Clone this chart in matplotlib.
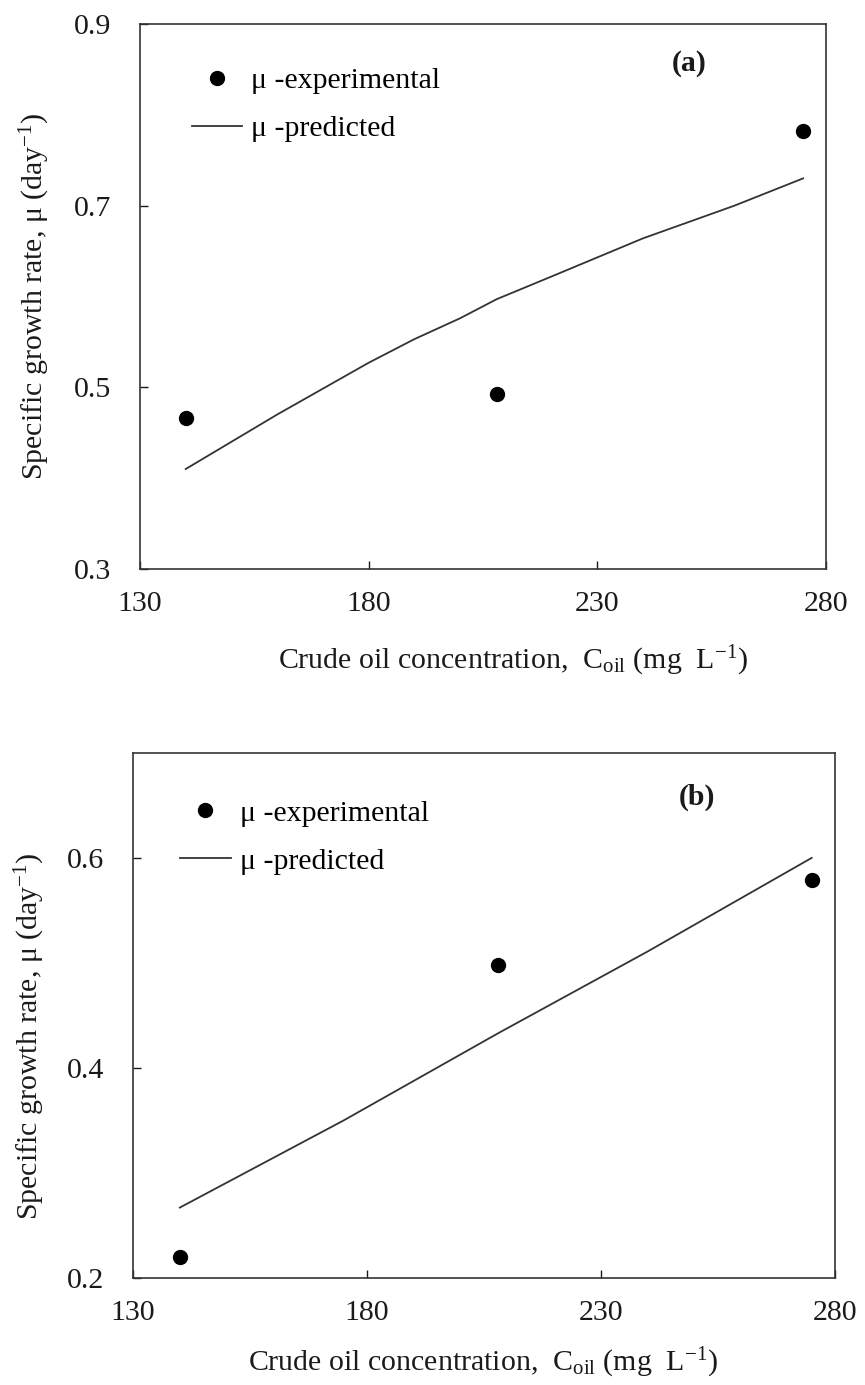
import numpy as np
import matplotlib.pyplot as plt
from matplotlib.lines import Line2D

plt.rcParams['font.family'] = ['Liberation Serif', 'DejaVu Serif']
plt.rcParams['mathtext.fontset'] = 'custom'
plt.rcParams['mathtext.rm'] = 'Liberation Serif'
plt.rcParams['mathtext.it'] = 'Liberation Serif:italic'

# panel (a)
a_exp_x = [140, 208, 275]
a_exp_y = [0.466, 0.493, 0.782]
a_pred_x = [140, 160, 180, 190, 200, 208, 220, 240, 260, 275]
a_pred_y = [0.410, 0.470, 0.527, 0.553, 0.576, 0.597, 0.622, 0.664, 0.700, 0.730]

# panel (b)
b_exp_x = [140, 208, 275]
b_exp_y = [0.220, 0.498, 0.579]
b_pred_x = [140, 175, 208, 240, 275]
b_pred_y = [0.267, 0.350, 0.433, 0.511, 0.600]

x_ticks = [130, 180, 230, 280]
a_yticks = [0.3, 0.5, 0.7, 0.9]
b_yticks = [0.2, 0.4, 0.6]

ink = '#1a1a1a'
fs = 21.5

fig = plt.figure(figsize=(8.65, 13.85), dpi=100)
ax1 = fig.add_axes([0.1618, 0.5892, 0.7931, 0.3935])
ax2 = fig.add_axes([0.1538, 0.0773, 0.8116, 0.3791])

def style(ax, yticks, ylim, ylab_pos, xlab_pos):
    ax.set_xlim(130, 280)
    ax.set_ylim(*ylim)
    ax.set_xticks(x_ticks)
    ax.set_yticks(yticks)
    ax.set_yticklabels([f'{v:.1f}' for v in yticks])
    ax.tick_params(direction='in', length=6, width=1, colors=ink,
                   labelsize=fs, labelcolor=ink)
    ax.tick_params(axis='x', pad=16)
    ax.tick_params(axis='y', pad=21)
    for s in ax.spines.values():
        s.set_linewidth(1.2)
        s.set_color('#333333')
    ax.set_xlabel(r'Crude oil concentration,  C$_{\mathregular{oil}}$ (mg  L$^{\mathregular{-1}}$)',
                  fontsize=fs, color=ink)
    ax.set_ylabel(r'Specific growth rate, μ (day$^{\mathregular{-1}}$)',
                  fontsize=fs, color=ink)
    ax.yaxis.set_label_coords(*ylab_pos)
    ax.xaxis.set_label_coords(*xlab_pos)

for ax, ex, ey, px, py, yt, yl, tag, ylp, xlp, tagpos, legpos in [
        (ax1, a_exp_x, a_exp_y, a_pred_x, a_pred_y, a_yticks, (0.3, 0.9), '(a)',
         (-0.128, 0.5), (0.544, -0.138), (0.8, 0.927), (0.058, 0.942)),
        (ax2, b_exp_x, b_exp_y, b_pred_x, b_pred_y, b_yticks, (0.2, 0.7), '(b)',
         (-0.122, 0.46), (0.498, -0.13), (0.803, 0.916), (0.05, 0.933))]:
    ax.plot(px, py, '-', color='#333333', lw=1.3)
    ax.plot(ex, ey, 'o', color='black', ms=10, ls='none')
    style(ax, yt, yl, ylp, xlp)
    ax.text(*tagpos, tag, transform=ax.transAxes, fontsize=fs, fontweight='bold',
            ha='center', va='center', color=ink)
    handles = [Line2D([], [], marker='o', color='black', ms=10, ls='none'),
               Line2D([], [], color='#333333', lw=1.3)]
    ax.legend(handles, ['μ -experimental', 'μ -predicted'], frameon=False,
              loc='upper left', bbox_to_anchor=legpos,
              fontsize=fs, handlelength=1.7, handletextpad=0.3, labelspacing=0.7,
              borderaxespad=0)

fig.savefig('out.png', dpi=100)
